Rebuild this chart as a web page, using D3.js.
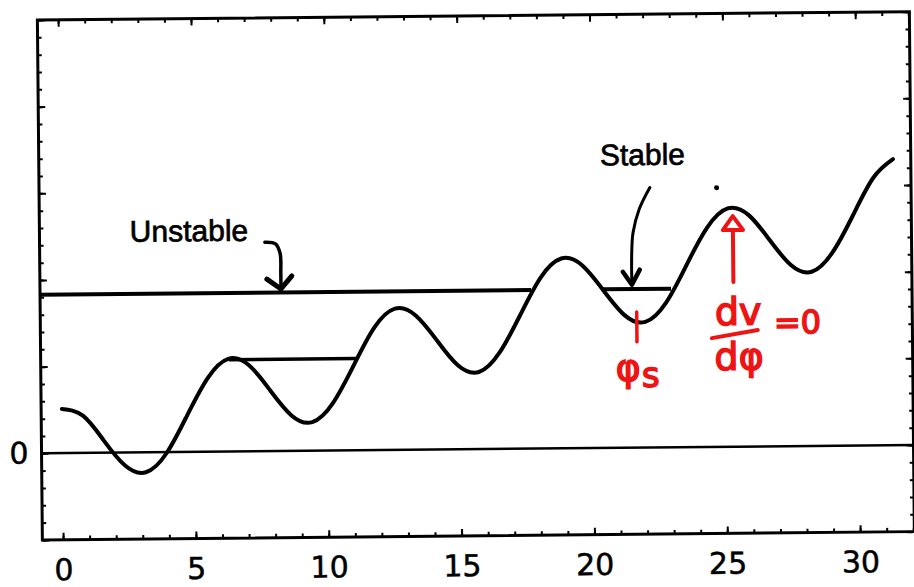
<!DOCTYPE html>
<html>
<head>
<meta charset="utf-8">
<script src="https://cdn.jsdelivr.net/npm/d3@7"></script>
<style>
  body { margin: 0; background: #fff; }
  svg { display: block; }
</style>
</head>
<body>
<div id="chart"></div>
<script>
// potential curve (phase, potential)
const phi = [0.00, 0.79, 1.57, 2.36, 3.14, 3.93, 4.71, 5.50, 6.28, 7.07, 7.85, 8.64, 9.42, 10.21,
    11.00, 11.78, 12.57, 13.35, 14.14, 14.92, 15.71, 16.49, 17.28, 18.06, 18.85, 19.63, 20.42,
    21.21, 21.99, 22.78, 23.56, 24.35, 25.13, 25.92, 26.70, 27.49, 28.27, 29.06, 29.85, 30.63, 31.37];
const potential = [0.51, 0.43, 0.14, -0.15, -0.23, -0.01, 0.42, 0.85, 1.07, 0.99, 0.70, 0.41, 0.33, 0.55,
    0.98, 1.41, 1.63, 1.55, 1.26, 0.97, 0.89, 1.11, 1.54, 1.97, 2.19, 2.11, 1.82,
    1.53, 1.45, 1.67, 2.10, 2.53, 2.75, 2.67, 2.38, 2.09, 2.01, 2.23, 2.66, 3.09, 3.30];

// horizontal energy levels
const levelStart = [-0.78, 6.30, 20.37];
const levelEnd = [17.70, 11.10, 22.97];
const levelValue = [1.83, 1.06, 1.83];
const levelWidth = [4, 3.5, 4];

const xMajorTicks = [0, 5, 10, 15, 20, 25, 30];
const yMajorTicks = [-1, 0, 1, 2, 3, 4, 5];

const labelText = ['Unstable', 'Stable'];
const labelX = [2.62, 20.34];
const labelY = [2.43, 3.26];

const unstableArrow = [[7.70, 2.41], [8.10, 2.39], [8.27, 2.28], [8.29, 2.05], [8.29, 1.87]];
const stableArrow = [[22.21, 3.00], [21.80, 2.75], [21.56, 2.48], [21.50, 2.20], [21.50, 1.88]];

const red = '#ee1414';

const svg = d3.select('#chart')
    .append('svg')
    .attr('width', 914)
    .attr('height', 587);

svg.append('rect').attr('width', 914).attr('height', 587).attr('fill', '#fff');

// the scanned figure sits a little crooked
const g = svg.append('g').attr('transform', 'rotate(-0.55, 457, 290)');

const x = d3.scaleLinear().domain([-0.78, 32.04]).range([40, 912]);
const y = d3.scaleLinear().domain([-1, 5]).range([536, 16]);

function styleAxis(sel) {
    sel.select('.domain').remove();
    sel.selectAll('line').attr('stroke', '#000').attr('stroke-width', 2);
    sel.selectAll('text')
        .attr('fill', '#000')
        .attr('stroke', '#000')
        .attr('stroke-width', 0.5)
        .style('font-family', '"DejaVu Sans", sans-serif')
        .style('font-size', '30px');
}

const xMinor = d3.range(0, 33, 1);
const yMinor = d3.range(-1, 5.001, 0.2);

// bottom
g.append('g').attr('transform', `translate(0,${y(-1)})`)
    .call(d3.axisBottom(x).tickValues(xMinor).tickSize(-4).tickFormat(''))
    .call(styleAxis);
g.append('g').attr('transform', `translate(0,${y(-1)})`)
    .call(d3.axisBottom(x).tickValues(xMajorTicks).tickSize(-7).tickPadding(19).tickFormat(d3.format('d')))
    .call(styleAxis);
// top
g.append('g').attr('transform', `translate(0,${y(5)})`)
    .call(d3.axisTop(x).tickValues(xMinor).tickSize(-4).tickFormat(''))
    .call(styleAxis);
g.append('g').attr('transform', `translate(0,${y(5)})`)
    .call(d3.axisTop(x).tickValues(xMajorTicks).tickSize(-7).tickFormat(''))
    .call(styleAxis);
// left
g.append('g').attr('transform', `translate(${x(-0.78)},0)`)
    .call(d3.axisLeft(y).tickValues(yMinor).tickSize(-4).tickFormat(''))
    .call(styleAxis);
g.append('g').attr('transform', `translate(${x(-0.78)},0)`)
    .call(d3.axisLeft(y).tickValues(yMajorTicks).tickSize(-7).tickPadding(13).tickFormat(d => d === 0 ? '0' : ''))
    .call(styleAxis);
// right
g.append('g').attr('transform', `translate(${x(32.04)},0)`)
    .call(d3.axisRight(y).tickValues(yMinor).tickSize(-4).tickFormat(''))
    .call(styleAxis);
g.append('g').attr('transform', `translate(${x(32.04)},0)`)
    .call(d3.axisRight(y).tickValues(yMajorTicks).tickSize(-7).tickFormat(''))
    .call(styleAxis);

// zero line
g.append('line')
    .attr('x1', x(-0.78)).attr('x2', x(32.04))
    .attr('y1', y(0)).attr('y2', y(0))
    .attr('stroke', '#000').attr('stroke-width', 2.5);

// energy levels
g.selectAll('.level')
    .data(levelValue)
    .enter()
    .append('line')
    .attr('class', 'level')
    .attr('x1', (d, i) => x(levelStart[i]))
    .attr('x2', (d, i) => x(levelEnd[i]))
    .attr('y1', d => y(d))
    .attr('y2', d => y(d))
    .attr('stroke', '#000')
    .attr('stroke-width', (d, i) => levelWidth[i]);

// potential curve
const line = d3.line()
    .x(d => x(d[0]))
    .y(d => y(d[1]))
    .curve(d3.curveNatural);

g.append('path')
    .datum(phi.map((p, i) => [p, potential[i]]))
    .attr('d', line)
    .attr('fill', 'none')
    .attr('stroke', '#000')
    .attr('stroke-width', 4)
    .attr('stroke-linecap', 'round');

// frame
g.append('rect')
    .attr('x', x(-0.78)).attr('y', y(5))
    .attr('width', x(32.04) - x(-0.78))
    .attr('height', y(-1) - y(5))
    .attr('fill', 'none')
    .attr('stroke', '#000')
    .attr('stroke-width', 3);

// labels
g.selectAll('.label')
    .data(labelText)
    .enter()
    .append('text')
    .attr('class', 'label')
    .attr('x', (d, i) => x(labelX[i]))
    .attr('y', (d, i) => y(labelY[i]))
    .attr('fill', '#000')
    .attr('stroke', '#000')
    .attr('stroke-width', 0.7)
    .style('font-family', '"Liberation Sans", Arial, sans-serif')
    .style('font-size', '30px')
    .text(d => d);

// black arrows
const arrowLine = d3.line().x(d => x(d[0])).y(d => y(d[1])).curve(d3.curveCatmullRom);

function drawArrow(pts, width, wings) {
    g.append('path')
        .attr('d', arrowLine(pts))
        .attr('fill', 'none')
        .attr('stroke', '#000')
        .attr('stroke-width', width)
        .attr('stroke-linecap', 'round');
    const tip = pts[pts.length - 1];
    const tx = x(tip[0]), ty = y(tip[1]);
    g.append('path')
        .attr('d', `M${tx + wings[0]},${ty + wings[1]} L${tx},${ty} L${tx + wings[2]},${ty + wings[3]}`)
        .attr('fill', 'none')
        .attr('stroke', '#000')
        .attr('stroke-width', width + 1.5)
        .attr('stroke-linejoin', 'round')
        .attr('stroke-linecap', 'round');
}

drawArrow(unstableArrow, 3.5, [-14, -10, 11, -13]);
drawArrow(stableArrow, 3, [-9, -13, 8, -15]);

// speck near the peak
g.append('circle')
    .attr('cx', x(24.72)).attr('cy', y(2.99))
    .attr('r', 2.5).attr('fill', '#000');

// red annotations
const peakPhi = 25.32;
g.append('line')
    .attr('x1', x(peakPhi)).attr('x2', x(peakPhi))
    .attr('y1', y(1.90)).attr('y2', y(2.52))
    .attr('stroke', red).attr('stroke-width', 4).attr('stroke-linecap', 'round');
g.append('path')
    .attr('d', `M${x(peakPhi)},${y(2.66)} L${x(peakPhi - 0.38)},${y(2.50)} L${x(peakPhi + 0.38)},${y(2.50)} Z`)
    .attr('fill', '#fff')
    .attr('stroke', red).attr('stroke-width', 4).attr('stroke-linejoin', 'round');

g.append('line')
    .attr('x1', x(21.67)).attr('x2', x(21.67))
    .attr('y1', y(1.565)).attr('y2', y(1.22))
    .attr('stroke', red).attr('stroke-width', 3.5).attr('stroke-linecap', 'round');

const redText = (px, py, size) => g.append('text')
    .attr('x', x(px)).attr('y', y(py))
    .attr('fill', red)
    .attr('stroke', red)
    .attr('stroke-width', 1.5)
    .style('font-family', '"DejaVu Sans", sans-serif')
    .style('font-size', size + 'px');

const phiS = redText(20.86, 0.77, 38).text('φ');
phiS.append('tspan').attr('dx', 1).attr('dy', 6).style('font-size', '34px').text('s');

redText(24.61, 1.405, 38).text('dv');
redText(24.58, 0.886, 38).text('dφ');
redText(26.83, 1.30, 32).text('=0');

g.append('line')
    .attr('x1', x(24.49)).attr('y1', y(1.255))
    .attr('x2', x(26.22)).attr('y2', y(1.343))
    .attr('stroke', red).attr('stroke-width', 4).attr('stroke-linecap', 'round');
</script>
</body>
</html>
